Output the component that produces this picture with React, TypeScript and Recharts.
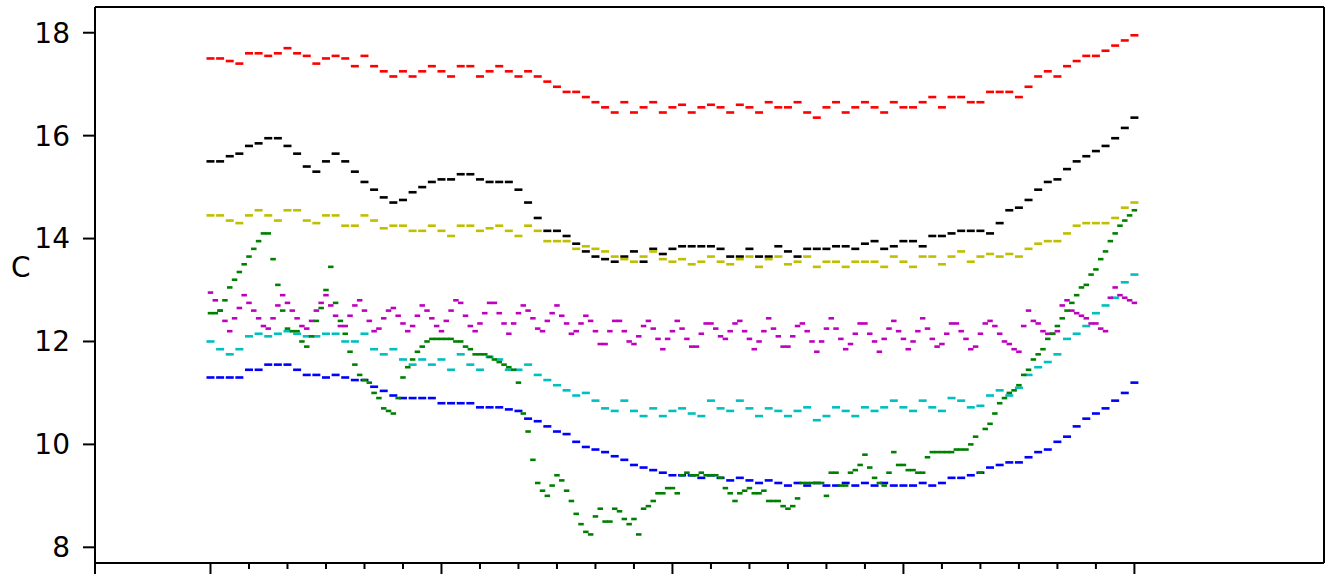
import React from "react";
import { ScatterChart, Scatter, XAxis, YAxis, ReferenceLine } from "recharts";

// readings over 96 hours; most series hourly, green and magenta every half hour
const hourTicks = [-12, 0, 4, 8, 12, 16, 20, 24, 28, 32, 36, 40, 44, 48, 52, 56, 60, 64, 68, 72, 76, 80, 84, 88, 92, 96];
const majorTicks = [-12, 0, 24, 48, 72, 96];
const tempTicks = [8, 10, 12, 14, 16, 18];

const red = [
  17.5, 17.5, 17.45, 17.4, 17.6, 17.6, 17.55, 17.6, 17.7, 17.6, 17.55, 17.4, 17.5, 17.55, 17.5, 17.35, 17.55, 17.35, 17.25, 17.15,
  17.25, 17.15, 17.25, 17.35, 17.25, 17.15, 17.35, 17.35, 17.15, 17.25, 17.35, 17.25, 17.15, 17.25, 17.15, 17.05, 16.95, 16.85, 16.85, 16.75,
  16.65, 16.55, 16.45, 16.65, 16.45, 16.55, 16.65, 16.45, 16.55, 16.6, 16.45, 16.55, 16.6, 16.55, 16.45, 16.6, 16.55, 16.45, 16.65, 16.55,
  16.55, 16.65, 16.45, 16.35, 16.55, 16.65, 16.45, 16.55, 16.65, 16.55, 16.45, 16.65, 16.55, 16.55, 16.65, 16.75, 16.55, 16.75, 16.75, 16.65,
  16.65, 16.85, 16.85, 16.85, 16.75, 16.95, 17.15, 17.25, 17.15, 17.35, 17.45, 17.55, 17.55, 17.65, 17.75, 17.85, 17.95,
];

const black = [
  15.5, 15.5, 15.6, 15.65, 15.8, 15.85, 15.95, 15.95, 15.8, 15.65, 15.4, 15.3, 15.5, 15.65, 15.5, 15.3, 15.1, 14.95, 14.8, 14.7,
  14.75, 14.9, 15.0, 15.1, 15.15, 15.15, 15.25, 15.25, 15.15, 15.1, 15.1, 15.1, 14.95, 14.7, 14.4, 14.15, 14.15, 14.05, 13.9, 13.75,
  13.65, 13.6, 13.55, 13.65, 13.75, 13.55, 13.8, 13.7, 13.8, 13.85, 13.85, 13.85, 13.85, 13.8, 13.65, 13.65, 13.8, 13.65, 13.65, 13.85,
  13.75, 13.65, 13.8, 13.8, 13.8, 13.85, 13.85, 13.8, 13.9, 13.95, 13.8, 13.85, 13.95, 13.95, 13.85, 14.05, 14.05, 14.1, 14.15, 14.15,
  14.15, 14.1, 14.3, 14.55, 14.6, 14.75, 14.95, 15.1, 15.15, 15.35, 15.5, 15.6, 15.7, 15.8, 15.95, 16.15, 16.35,
];

const yellow = [
  14.45, 14.45, 14.35, 14.3, 14.45, 14.55, 14.45, 14.35, 14.55, 14.55, 14.35, 14.3, 14.45, 14.45, 14.25, 14.25, 14.45, 14.35, 14.2, 14.25,
  14.25, 14.15, 14.15, 14.25, 14.15, 14.05, 14.25, 14.25, 14.15, 14.2, 14.25, 14.15, 14.05, 14.25, 14.15, 13.95, 13.95, 13.95, 13.8, 13.85,
  13.8, 13.75, 13.65, 13.6, 13.55, 13.65, 13.75, 13.6, 13.55, 13.6, 13.5, 13.55, 13.65, 13.55, 13.5, 13.6, 13.65, 13.45, 13.6, 13.65,
  13.5, 13.55, 13.65, 13.45, 13.55, 13.55, 13.45, 13.55, 13.55, 13.55, 13.45, 13.65, 13.55, 13.45, 13.65, 13.65, 13.5, 13.65, 13.75, 13.55,
  13.65, 13.7, 13.65, 13.7, 13.65, 13.8, 13.9, 13.95, 13.95, 14.1, 14.25, 14.3, 14.3, 14.3, 14.4, 14.6, 14.7,
];

// half-hour readings
const green = [
  12.55, 12.55, 12.6, 12.8, 13.05, 13.2, 13.35, 13.5, 13.65, 13.8, 13.95, 14.1, 14.1, 13.6, 13.1, 12.6, 12.25, 12.2, 12.2, 12.0,
  11.9, 12.1, 12.4, 12.65, 13.0, 13.45, 12.75, 12.4, 12.15, 11.8, 11.55, 11.35, 11.25, 11.2, 11.0, 10.9, 10.7, 10.65, 10.6, 10.9,
  11.3, 11.5, 11.65, 11.8, 11.9, 12.0, 12.05, 12.05, 12.05, 12.05, 12.05, 12.0, 12.0, 11.9, 11.85, 11.75, 11.75, 11.75, 11.7, 11.65,
  11.6, 11.55, 11.5, 11.45, 11.2, 10.6, 10.25, 9.7, 9.25, 9.1, 9.0, 9.2, 9.4, 9.3, 9.1, 8.9, 8.65, 8.45, 8.3, 8.25,
  8.6, 8.75, 8.5, 8.5, 8.75, 8.7, 8.55, 8.45, 8.55, 8.25, 8.75, 8.8, 8.9, 9.05, 9.05, 9.15, 9.15, 9.05, 9.4, 9.45,
  9.4, 9.4, 9.45, 9.4, 9.4, 9.4, 9.35, 9.15, 9.05, 8.9, 9.05, 9.1, 9.15, 9.05, 9.05, 9.1, 8.9, 8.9, 8.9, 8.8,
  8.75, 8.8, 8.95, 9.25, 9.25, 9.25, 9.25, 9.25, 9.0, 9.45, 9.45, 9.2, 9.2, 9.45, 9.5, 9.6, 9.8, 9.55, 9.35, 9.25,
  9.2, 9.45, 9.85, 9.6, 9.6, 9.5, 9.5, 9.45, 9.45, 9.75, 9.85, 9.85, 9.85, 9.85, 9.85, 9.9, 9.9, 9.9, 10.0, 10.15,
  9.45, 10.3, 10.4, 10.6, 10.8, 10.9, 11.0, 11.05, 11.15, 11.35, 11.45, 11.65, 11.75, 11.85, 12.05, 12.15, 12.3, 12.45, 12.6, 12.75,
  12.9, 13.05, 13.1, 13.3, 13.4, 13.6, 13.75, 13.95, 14.1, 14.25, 14.35, 14.45, 14.55,
];

const magenta = [
  12.95, 12.8, 12.6, 12.4, 12.2, 12.45, 12.65, 12.9, 12.75, 12.6, 12.45, 12.3, 12.25, 12.45, 12.7, 12.9, 12.75, 12.6, 12.45, 12.3,
  12.25, 12.4, 12.6, 12.75, 12.9, 12.7, 12.5, 12.3, 12.3, 12.5, 12.7, 12.8, 12.6, 12.4, 12.2, 12.25, 12.45, 12.6, 12.65, 12.5,
  12.35, 12.2, 12.3, 12.5, 12.7, 12.6, 12.45, 12.3, 12.2, 12.4, 12.6, 12.8, 12.75, 12.5, 12.3, 12.2, 12.35, 12.55, 12.75, 12.75,
  12.55, 12.35, 12.15, 12.35, 12.55, 12.7, 12.6, 12.45, 12.25, 12.2, 12.4, 12.55, 12.7, 12.5, 12.35, 12.15, 12.2, 12.35, 12.5, 12.4,
  12.2, 11.95, 11.95, 12.2, 12.4, 12.4, 12.2, 12.0, 11.95, 12.1, 12.3, 12.4, 12.25, 12.05, 11.85, 12.05, 12.2, 12.4, 12.25, 12.05,
  11.9, 11.9, 12.15, 12.35, 12.35, 12.25, 12.1, 12.05, 12.2, 12.35, 12.4, 12.2, 12.05, 11.85, 12.0, 12.2, 12.45, 12.25, 12.1, 11.9,
  11.9, 12.1, 12.3, 12.35, 12.2, 12.0, 11.8, 12.0, 12.25, 12.45, 12.25, 12.05, 11.85, 11.95, 12.15, 12.35, 12.35, 12.15, 12.0, 11.8,
  12.05, 12.25, 12.4, 12.2, 12.05, 11.85, 12.0, 12.2, 12.45, 12.25, 12.05, 11.9, 11.95, 12.15, 12.35, 12.35, 12.2, 12.05, 11.85, 11.9,
  12.15, 12.35, 12.4, 12.3, 12.15, 12.0, 11.95, 11.85, 11.8, 12.3, 12.6, 12.4, 12.35, 12.2, 12.15, 12.15, 12.2, 12.7, 12.8, 12.6,
  12.55, 12.5, 12.45, 12.35, 12.35, 12.25, 12.2, 12.85, 13.05, 12.9, 12.85, 12.8, 12.75,
];

const cyan = [
  12.0, 11.85, 11.75, 11.85, 12.1, 12.15, 12.1, 12.15, 12.2, 12.15, 12.1, 12.1, 12.15, 12.15, 12.0, 12.0, 12.15, 11.85, 11.75, 11.85,
  11.65, 11.55, 11.65, 11.55, 11.65, 11.45, 11.75, 11.55, 11.45, 11.7, 11.65, 11.45, 11.45, 11.55, 11.35, 11.25, 11.15, 11.05, 10.95, 11.0,
  10.85, 10.7, 10.65, 10.85, 10.65, 10.55, 10.7, 10.55, 10.65, 10.7, 10.6, 10.55, 10.85, 10.7, 10.65, 10.85, 10.7, 10.55, 10.7, 10.65,
  10.55, 10.65, 10.72, 10.47, 10.55, 10.72, 10.65, 10.55, 10.72, 10.65, 10.72, 10.85, 10.72, 10.65, 10.85, 10.72, 10.65, 10.9, 10.85, 10.72,
  10.75, 10.95, 11.05, 10.95, 11.1, 11.35, 11.5, 11.6, 11.75, 12.05, 12.15, 12.3, 12.55, 12.7, 12.85, 13.15, 13.3,
];

const blue = [
  11.3, 11.3, 11.3, 11.3, 11.45, 11.45, 11.55, 11.55, 11.55, 11.45, 11.35, 11.35, 11.3, 11.35, 11.3, 11.25, 11.25, 11.12, 11.04, 10.95,
  10.9, 10.9, 10.9, 10.9, 10.8, 10.8, 10.8, 10.8, 10.72, 10.72, 10.72, 10.68, 10.65, 10.5, 10.45, 10.35, 10.25, 10.2, 10.05, 9.95,
  9.9, 9.85, 9.77, 9.7, 9.6, 9.55, 9.5, 9.45, 9.4, 9.4, 9.4, 9.35, 9.4, 9.35, 9.3, 9.35, 9.3, 9.25, 9.3, 9.25,
  9.2, 9.25, 9.2, 9.25, 9.2, 9.2, 9.25, 9.2, 9.25, 9.2, 9.25, 9.2, 9.2, 9.2, 9.25, 9.2, 9.25, 9.35, 9.35, 9.4,
  9.45, 9.55, 9.6, 9.65, 9.65, 9.75, 9.85, 9.9, 10.05, 10.15, 10.35, 10.5, 10.6, 10.7, 10.85, 11.0, 11.2,
];

const series = [
  { name: "red", values: red, step: 1, color: "#ff0000" },
  { name: "black", values: black, step: 1, color: "#000000" },
  { name: "yellow", values: yellow, step: 1, color: "#bfbf00" },
  { name: "blue", values: blue, step: 1, color: "#0000ff" },
  { name: "cyan", values: cyan, step: 1, color: "#00bfbf" },
  { name: "magenta", values: magenta, step: 0.5, color: "#bf00bf" },
  { name: "green", values: green, step: 0.5, color: "#008000" },
];

const toPoints = (values: number[], step: number) => values.map((v, i) => ({ h: i * step, v }));

// small horizontal dash marker
const dash = (color: string, w: number) => (props: any) => (
  <rect x={props.cx - w / 2} y={props.cy - 1.3} width={w} height={2.6} fill={color} />
);

const HourTick = (props: any) => {
  const { x, y, payload } = props;
  const major = majorTicks.includes(payload.value);
  return <line x1={x} x2={x} y1={y} y2={y + (major ? 11 : 6)} stroke="#000" strokeWidth={2} />;
};

const AxisLabel = (props: any) => {
  const vb = props.viewBox;
  return (
    <text x={vb.x + 11} y={vb.y + vb.height / 2 - 8} fontSize={28} fill="#000">
      C
    </text>
  );
};

export default function App() {
  return (
    <div style={{ position: "absolute", left: 0, top: 0, background: "#fff" }}>
      <ScatterChart
        width={1327}
        height={575}
        margin={{ top: 7, right: 3, bottom: 0, left: 0 }}
        style={{ fontFamily: "DejaVu Sans" }}
      >
        <XAxis
          type="number"
          dataKey="h"
          domain={[-12, 115.7]}
          ticks={hourTicks}
          interval={0}
          allowDataOverflow
          height={12}
          tickSize={0}
          tickMargin={0}
          tickLine={false}
          tick={<HourTick />}
          axisLine={{ stroke: "#000", strokeWidth: 2 }}
        />
        <YAxis
          type="number"
          dataKey="v"
          domain={[7.695, 18.5]}
          ticks={tempTicks}
          allowDataOverflow
          width={95}
          tickSize={12}
          tickMargin={13}
          tick={{ fontSize: 28, fill: "#000" }}
          tickLine={{ stroke: "#000", strokeWidth: 2 }}
          axisLine={{ stroke: "#000", strokeWidth: 2 }}
          label={{ content: AxisLabel }}
        />
        <ReferenceLine y={18.5} stroke="#000" strokeWidth={2} />
        <ReferenceLine x={115.7} stroke="#000" strokeWidth={2} />
        {series.map((s) => (
          <Scatter
            key={s.name}
            name={s.name}
            data={toPoints(s.values, s.step)}
            fill={s.color}
            shape={dash(s.color, s.step === 1 ? 8 : 5.5)}
            isAnimationActive={false}
          />
        ))}
      </ScatterChart>
    </div>
  );
}
